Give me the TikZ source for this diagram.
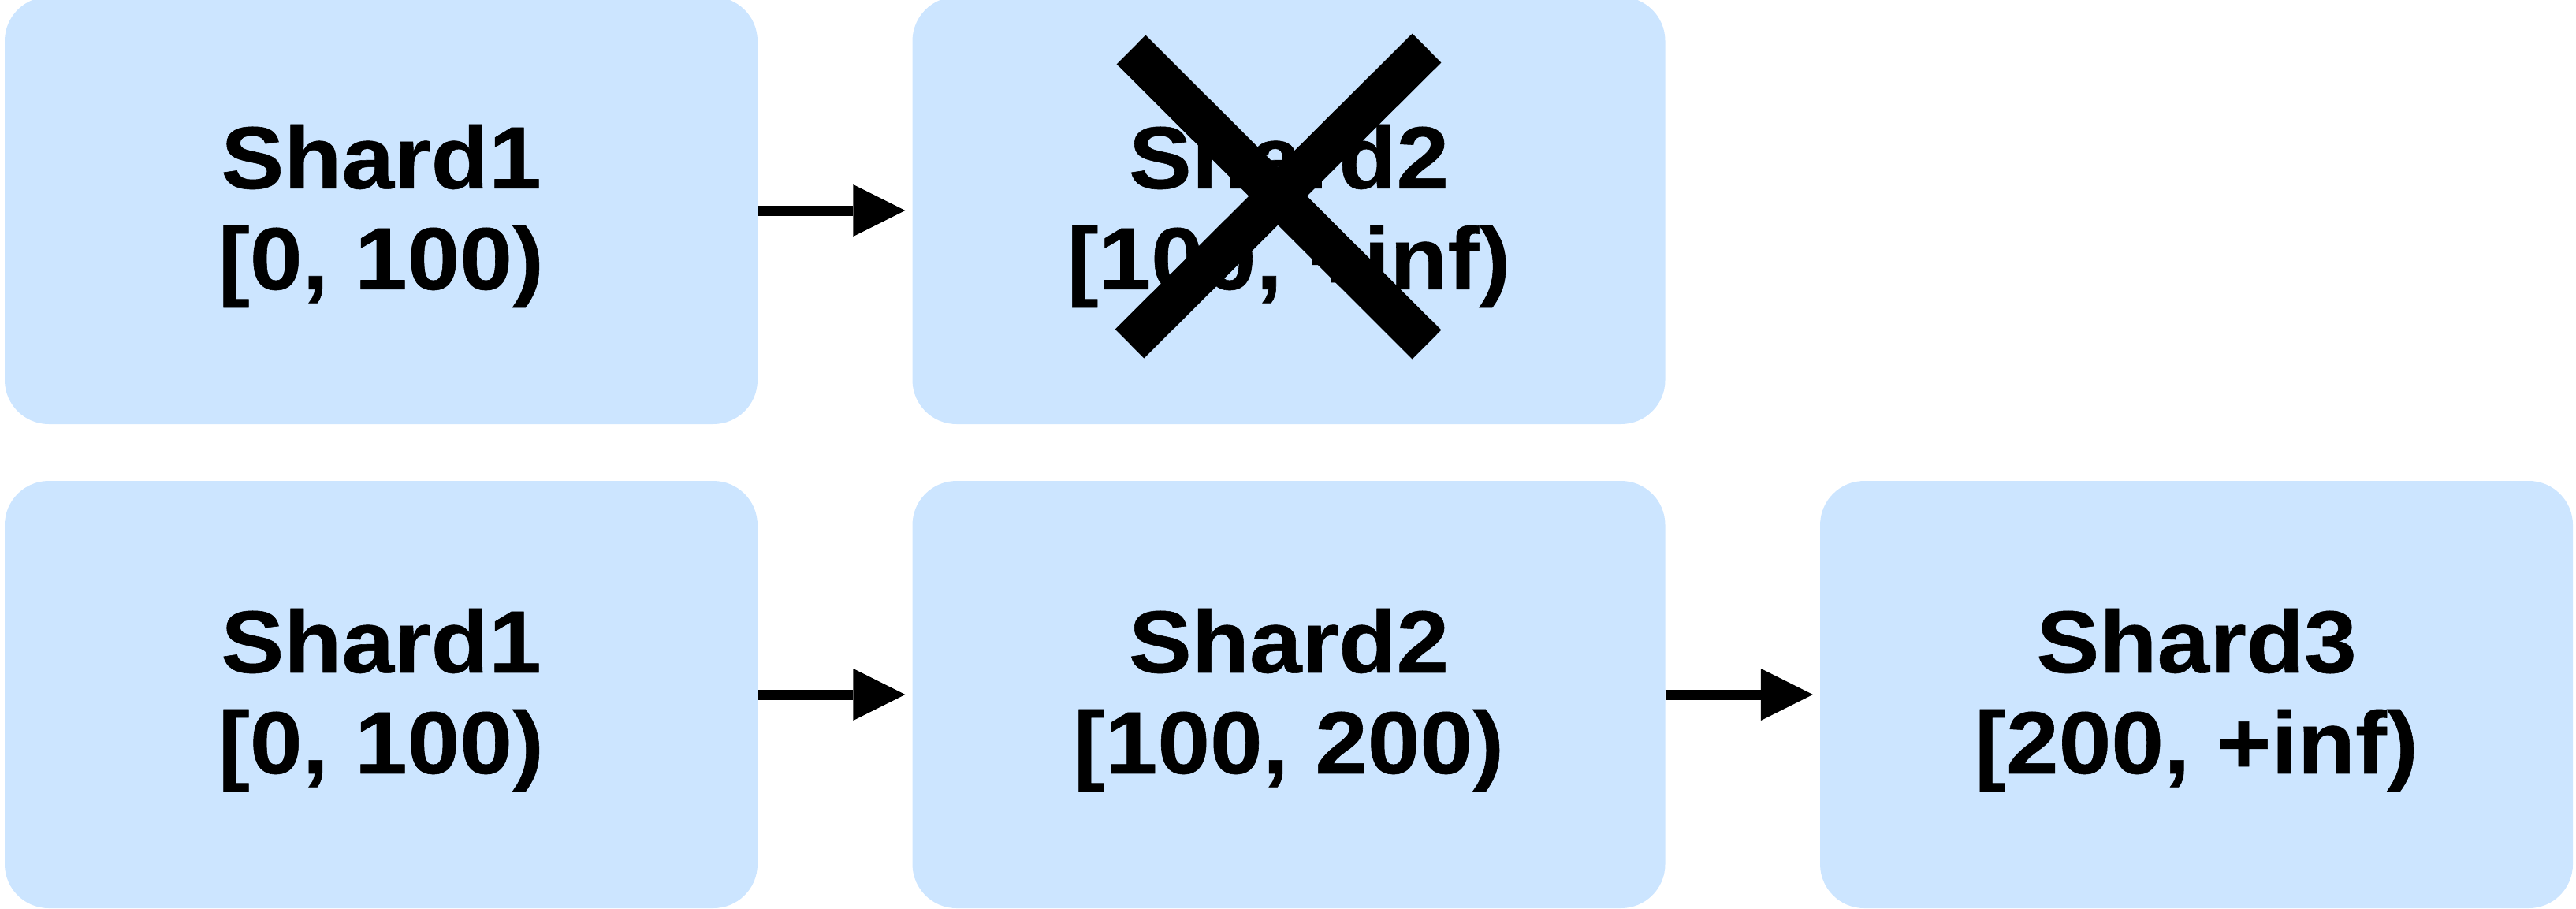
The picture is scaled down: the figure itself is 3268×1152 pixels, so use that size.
\documentclass[tikz,border=0pt]{standalone}
\usepackage{fontspec}
\setmainfont{Liberation Sans}[FakeStretch=1.07, BoldFeatures={FakeBold=0.5}]
\usetikzlibrary{arrows.meta}

\definecolor{shardfill}{RGB}{204,229,255}

\tikzset{
  shardbox/.style={rectangle, rounded corners=56pt, fill=shardfill, draw=none,
    minimum width=955pt, minimum height=542pt, inner sep=0pt},
  shardtext/.style={inner sep=0pt, align=center, yshift=-7pt,
    font=\fontsize{112}{128}\selectfont\bfseries},
  linkarrow/.style={line width=13pt, shorten >=9pt,
    -{Triangle[length=66pt,width=66pt,line width=0pt]}},
  crossbar/.style={line width=52pt, line cap=butt}
}

\begin{document}
\begin{tikzpicture}[x=1pt, y=-1pt]
  \useasboundingbox (0,0) rectangle (3268,1152);

  % first layout: two shards, the second one removed
  \node[shardbox] (s1a) at (483.5,267) {};
  \node[shardbox] (s2a) at (1635,267) {};

  % second layout: three shards
  \node[shardbox] (s1b) at (483.5,881) {};
  \node[shardbox] (s2b) at (1635,881) {};
  \node[shardbox] (s3b) at (2786.5,881) {};

  % labels, set a little below the box centres
  \node[shardtext] (t1a) at (s1a.center) {Shard1\\{}[0, 100)};
  \node[shardtext] (t2a) at (s2a.center) {Shard2\\{}[100, +inf)};
  \node[shardtext] (t1b) at (s1b.center) {Shard1\\{}[0, 100)};
  \node[shardtext] (t2b) at (s2b.center) {Shard2\\{}[100, 200)};
  \node[shardtext] (t3b) at (s3b.center) {Shard3\\{}[200, +inf)};

  \draw[linkarrow] (s1a.east) -- (s2a.west);
  \draw[linkarrow] (s1b.east) -- (s2b.west);
  \draw[linkarrow] (s2b.east) -- (s3b.west);

  % cross over the removed shard
  \begin{scope}[shift={(s2a.center)}]
    \draw[crossbar] (-200,-204) -- (175,170);
    \draw[crossbar] (175,-206) -- (-202,169);
  \end{scope}
\end{tikzpicture}
\end{document}
